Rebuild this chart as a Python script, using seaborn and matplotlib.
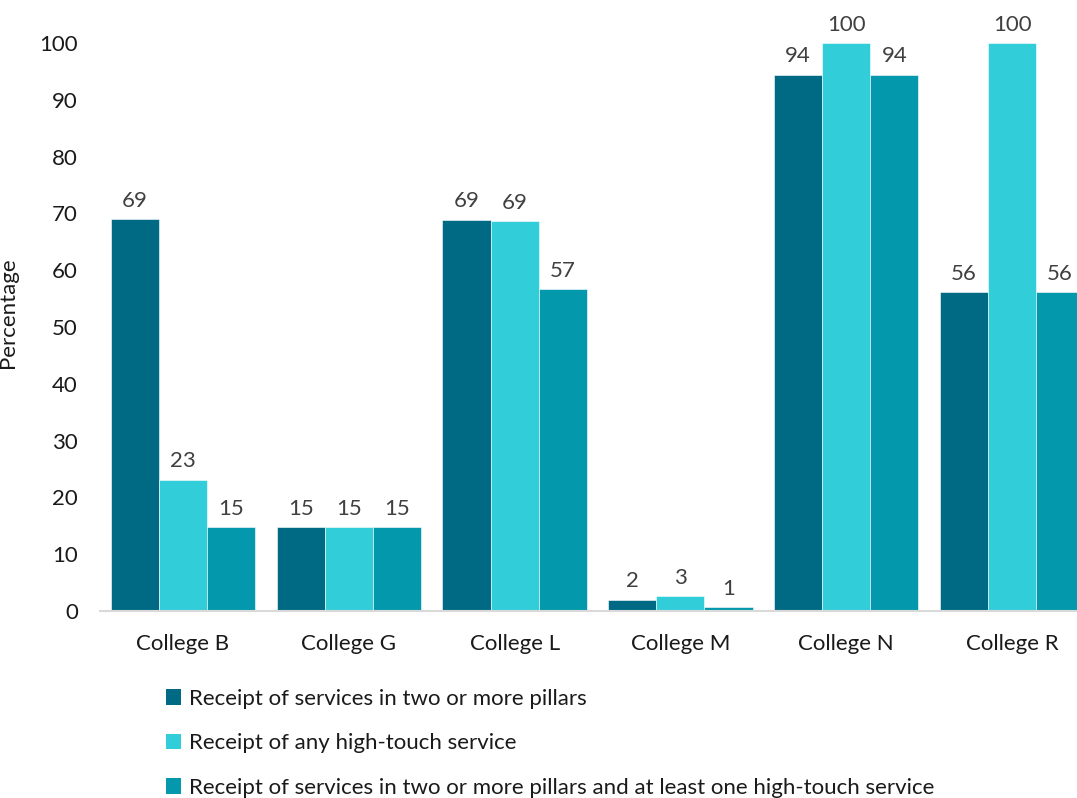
import matplotlib
matplotlib.use("Agg")
import matplotlib.pyplot as plt
from matplotlib.patches import Patch
import seaborn as sns
import pandas as pd

colleges = ["College B", "College G", "College L", "College M", "College N", "College R"]
series = [
    "Receipt of services in two or more pillars",
    "Receipt of any high-touch service",
    "Receipt of services in two or more pillars and at least one high-touch service",
]
two_or_more_pillars = [69.0, 14.8, 68.9, 2.0, 94.4, 56.1]
any_high_touch = [23.1, 14.8, 68.6, 2.6, 100.0, 100.0]
pillars_and_high_touch = [14.8, 14.8, 56.7, 0.7, 94.4, 56.1]
colors = ["#006A85", "#31CDD8", "#0398AC"]

df = pd.DataFrame({
    "College": colleges * 3,
    "Series": [series[0]] * 6 + [series[1]] * 6 + [series[2]] * 6,
    "Percentage": two_or_more_pillars + any_high_touch + pillars_and_high_touch,
})

sns.set_theme(style="white")
plt.rcParams["font.family"] = ["Lato", "DejaVu Sans"]

fs = 16
fig = plt.figure(figsize=(10.77, 7.98), dpi=100)
ax = fig.add_axes([100 / 1077, 187 / 798, 995 / 1077, 568 / 798])

sns.barplot(data=df, x="College", y="Percentage", hue="Series", hue_order=series,
            palette=colors, width=0.87, gap=0, saturation=1, ax=ax,
            edgecolor="white", linewidth=0.4, legend=False)

for cont in ax.containers:
    ax.bar_label(cont, fmt="%.0f", padding=6, fontsize=fs, color="#404040", clip_on=False)

ax.set_ylim(0, 100)
ax.set_xlim(-0.5, 5.5)
ax.set_yticks(range(0, 101, 10))
ax.tick_params(axis="y", labelsize=fs, labelcolor="#1a1a1a", length=0, pad=16)
ax.tick_params(axis="x", labelsize=fs, labelcolor="#1a1a1a", length=0, pad=16.5)
ax.set_xlabel("")
ax.set_ylabel("Percentage", fontsize=fs, color="#1a1a1a")
ax.yaxis.set_label_coords(-82 / 995, (611 - 313) / 568)
for s in ["top", "right", "left"]:
    ax.spines[s].set_visible(False)
ax.spines["bottom"].set_color("#D9D9D9")
ax.spines["bottom"].set_linewidth(1.5)

handles = [Patch(facecolor=c, edgecolor="none") for c in colors]
fig.legend(handles, series, loc="upper left", bbox_to_anchor=(157 / 1077, 1 - 680 / 798),
           frameon=False, fontsize=fs, handlelength=0.7, handleheight=0.7,
           handletextpad=0.35, labelspacing=1.1, labelcolor="#1a1a1a", borderaxespad=0)

fig.savefig("out.png", dpi=100)
